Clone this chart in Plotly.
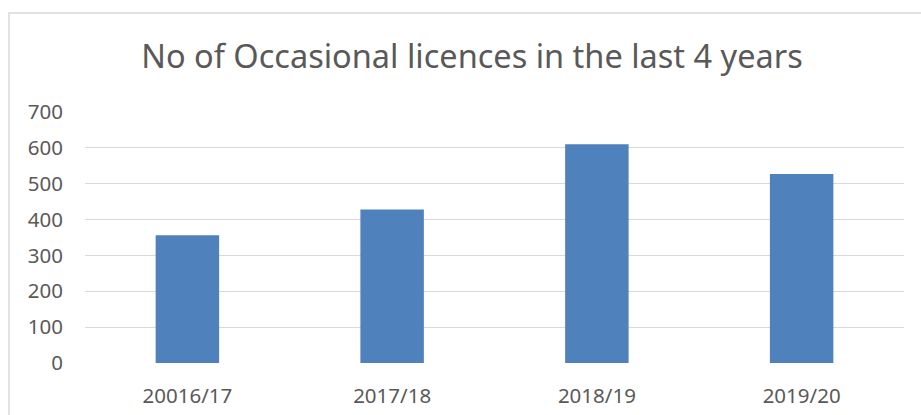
import plotly.graph_objects as go

categories = ["20016/17", "2017/18", "2018/19", "2019/20"]
values = [356, 428, 610, 527]
y_ticks = [0, 100, 200, 300, 400, 500, 600, 700]
title_text = "No of Occasional licences in the last 4 years"

W, H = 921, 415
ml, mr, mt, mb = 85, 17, 112, 52
pw = W - ml - mr
ph = H - mt - mb

fig = go.Figure(go.Bar(x=categories, y=values, marker_color="#4F81BD",
                       marker_line_width=0))

fig.update_layout(
    width=W, height=H,
    margin=dict(l=ml, r=mr, t=mt, b=mb, autoexpand=False),
    paper_bgcolor="white", plot_bgcolor="white",
    bargap=0.69,
    showlegend=False,
    font=dict(family="Noto Sans", color="#595959", size=20.5),
    title=dict(text=title_text, x=472 / W, xanchor="center",
               y=1 - 57 / H, yanchor="middle",
               font=dict(family="Noto Sans", size=32.5, color="#595959")),
)
fig.update_xaxes(showgrid=False, showline=False, zeroline=False, automargin=False,
                 ticks="", ticklabelstandoff=18,
                 tickfont=dict(size=20.5, color="#595959"))
fig.update_yaxes(range=[0, 700], tickvals=y_ticks, showgrid=True, automargin=False,
                 gridcolor="#D9D9D9", gridwidth=1.3, zeroline=False, showline=False,
                 ticks="", ticklabelstandoff=21,
                 tickfont=dict(size=20.5, color="#595959"))

# chart frame
x0 = (9 - ml) / pw
y1 = 1 + (mt - 13) / ph
fig.add_shape(type="rect", xref="paper", yref="paper",
              x0=x0, x1=1.2, y0=-0.5, y1=y1,
              line=dict(color="#D9D9D9", width=1.5), layer="below")

fig.write_html("out.html")
